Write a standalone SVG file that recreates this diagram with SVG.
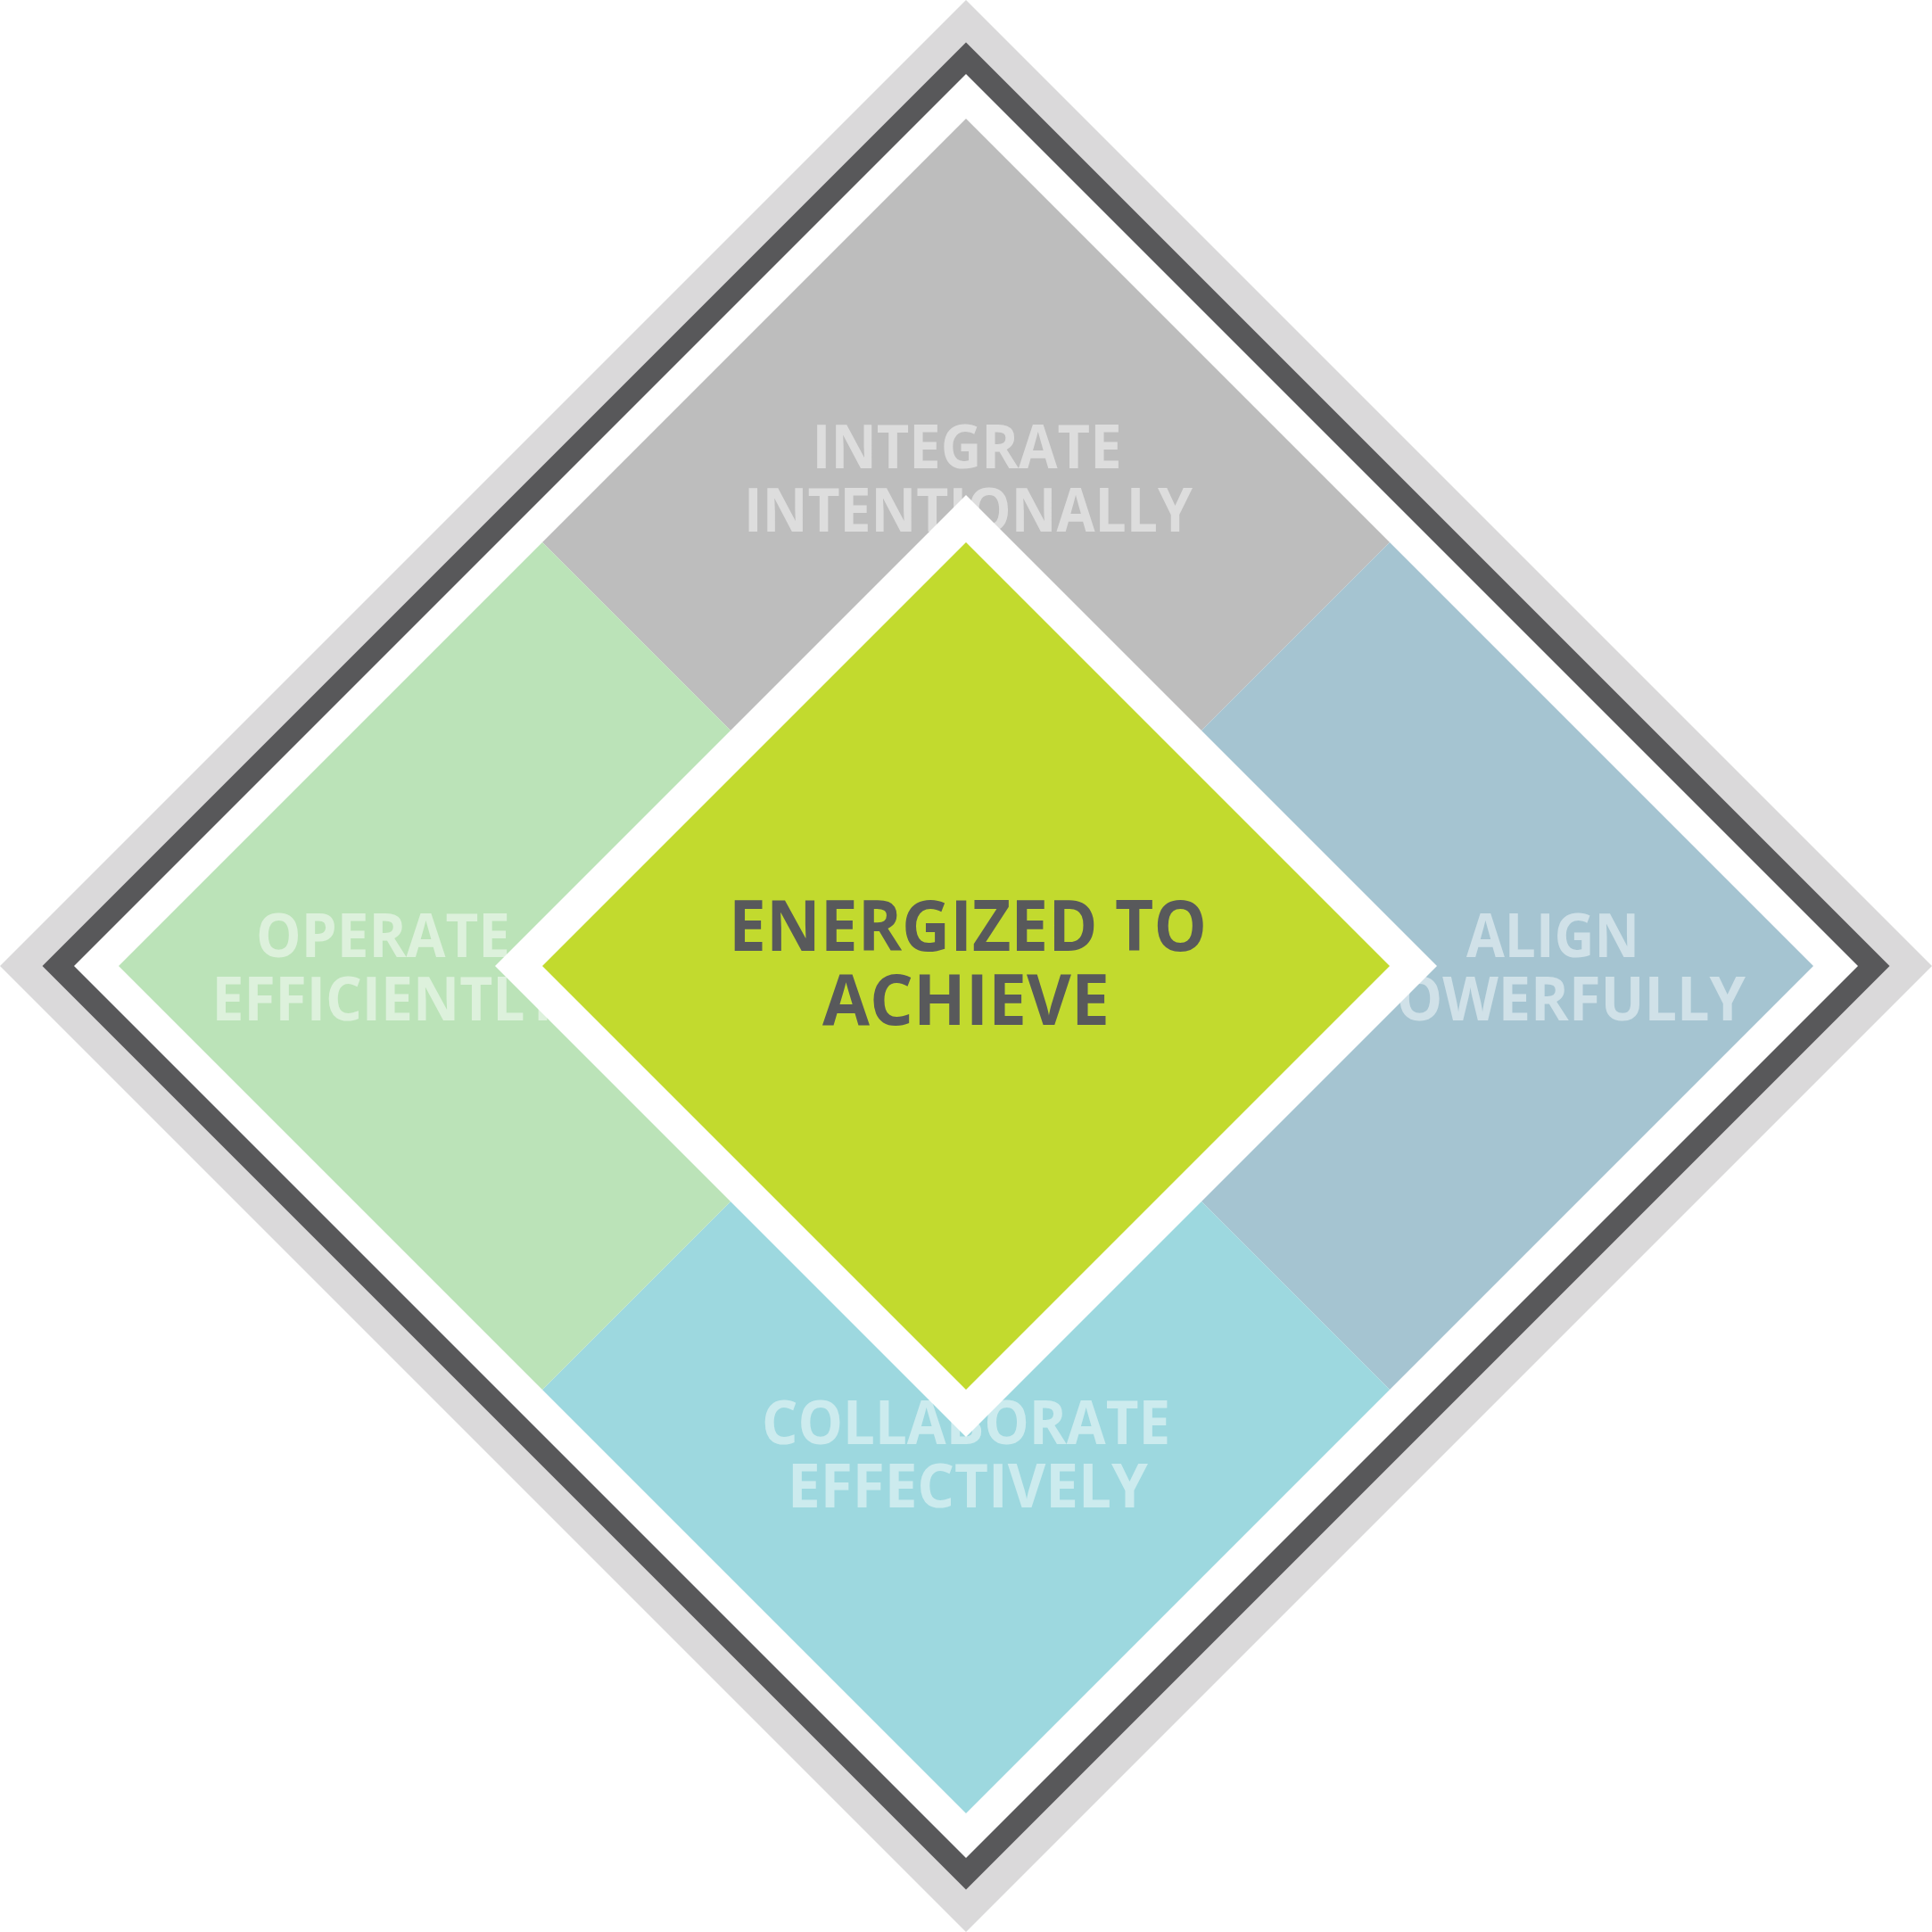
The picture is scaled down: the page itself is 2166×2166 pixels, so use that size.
<svg xmlns="http://www.w3.org/2000/svg" width="2166" height="2166" viewBox="0 0 2166 2166">
<style>
.lbl{font-family:"Open Sans","Liberation Sans",sans-serif;font-weight:700;font-size:68px;text-anchor:middle}
.ctr{font-family:"Open Sans","Liberation Sans",sans-serif;font-weight:700;font-size:78px;text-anchor:middle;fill:#58595B}
</style>
<rect width="2166" height="2166" fill="#FFFFFF"/>
<g id="frame">
<polygon points="1083,0 2166,1083 1083,2166 0,1083" fill="#DAD9DA"/>
<polygon points="1083,47.5 2118.5,1083 1083,2118.5 47.5,1083" fill="#58585A"/>
<polygon points="1083,83 2083,1083 1083,2083 83,1083" fill="#FFFFFF"/>
</g>
<g id="integrate">
<polygon points="1083,133 1558,608 1083,1083 608,608" fill="#BDBDBD"/>
<text class="lbl" fill="#DDDDDD" x="1084" y="525" textLength="347" lengthAdjust="spacingAndGlyphs">INTEGRATE</text>
<text class="lbl" fill="#DDDDDD" x="1085.5" y="596" textLength="503" lengthAdjust="spacingAndGlyphs">INTENTIONALLY</text>
</g>
<g id="align">
<polygon points="1558,608 2033,1083 1558,1558 1083,1083" fill="#A5C4D1"/>
<text class="lbl" fill="#D0E1E8" x="1741" y="1073" textLength="194" lengthAdjust="spacingAndGlyphs">ALIGN</text>
<text class="lbl" fill="#D0E1E8" x="1741" y="1144" textLength="432" lengthAdjust="spacingAndGlyphs">POWERFULLY</text>
</g>
<g id="collaborate">
<polygon points="1083,1083 1558,1558 1083,2033 608,1558" fill="#9DD8DF"/>
<text class="lbl" fill="#CCEBEE" x="1083" y="1619" textLength="458" lengthAdjust="spacingAndGlyphs">COLLABORATE</text>
<text class="lbl" fill="#CCEBEE" x="1085" y="1690" textLength="404" lengthAdjust="spacingAndGlyphs">EFFECTIVELY</text>
</g>
<g id="operate">
<polygon points="608,608 1083,1083 608,1558 133,1083" fill="#BBE3B8"/>
<text class="lbl" fill="#DDF1DC" x="429.5" y="1073" textLength="285" lengthAdjust="spacingAndGlyphs">OPERATE</text>
<text class="lbl" fill="#DDF1DC" x="433" y="1144" textLength="391" lengthAdjust="spacingAndGlyphs">EFFICIENTLY</text>
</g>
<g id="energized">
<polygon points="1083,555 1611,1083 1083,1611 555,1083" fill="#FFFFFF"/>
<polygon points="1083,608 1558,1083 1083,1558 608,1083" fill="#C2DA2E"/>
<text class="ctr" x="1085" y="1066" textLength="536" lengthAdjust="spacingAndGlyphs">ENERGIZED TO</text>
<text class="ctr" x="1083" y="1149" textLength="322" lengthAdjust="spacingAndGlyphs">ACHIEVE</text>
</g>
<g id="connectors"></g>
</svg>
